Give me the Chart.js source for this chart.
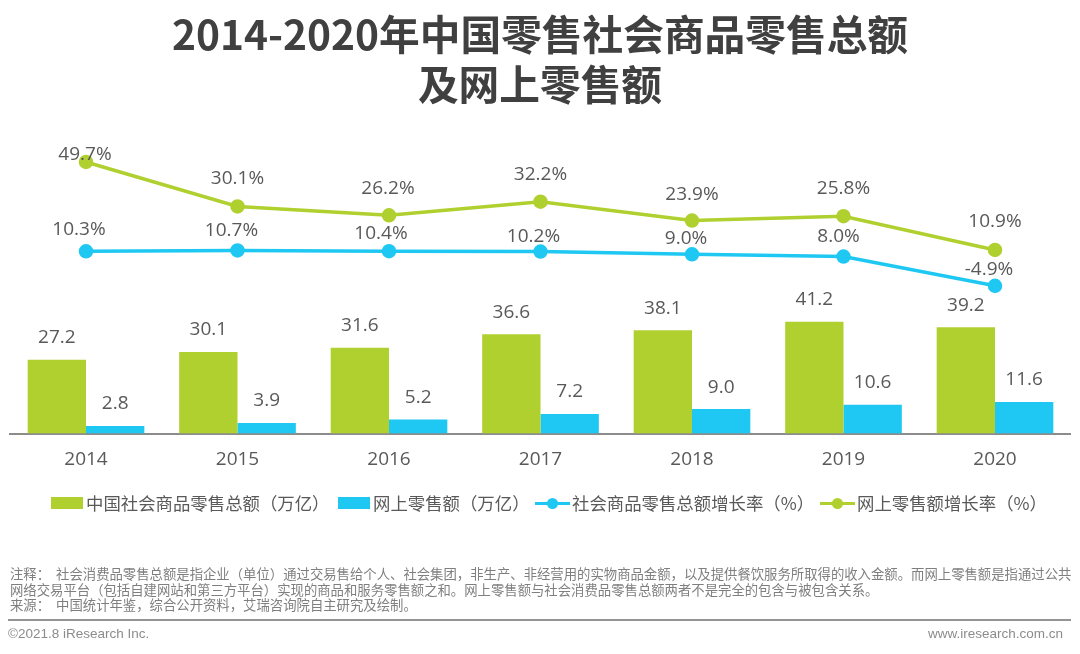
<!DOCTYPE html>
<html lang="zh-CN">
<head>
<meta charset="UTF-8">
<title>2014-2020年中国零售社会商品零售总额及网上零售额</title>
<script src="https://cdn.jsdelivr.net/npm/chart.js"></script>
<style>
    html, body { margin: 0; padding: 0; background: #fff; }
    body { width: 1080px; height: 654px; position: relative; overflow: hidden; font-family: "Noto Sans CJK SC", sans-serif; }
    #wrap { position: absolute; left: 0; top: 0; width: 1080px; height: 654px; }
    .title { position: absolute; left: 0; width: 1080px; text-align: center; font-weight: 700; font-size: 40.7px; line-height: 50px; color: #404040; }
    .leg { position: absolute; top: 491px; height: 24px; line-height: 24px; font-size: 17.4px; color: #595959; white-space: nowrap; }
    .swatch { position: absolute; }
    .note { position: absolute; left: 10px; font-size: 13.37px; line-height: 16px; color: #7f7f7f; white-space: nowrap; }
    .rule { position: absolute; left: 8px; width: 1063px; top: 618.5px; height: 2px; background: #949494; }
    .foot { position: absolute; top: 626px; font-family: "Liberation Sans", sans-serif; font-size: 13.5px; line-height: 16px; color: #8c8c8c; }
</style>
</head>
<body>
<div id="wrap"><canvas id="chart" width="1080" height="654"></canvas></div>
<div class="title" style="top:8px">2014-2020年中国零售社会商品零售总额</div>
<div class="title" style="top:58px">及网上零售额</div>
<div id="legend"></div>
<div class="note" style="top:565px">注释：&nbsp;&nbsp;社会消费品零售总额是指企业（单位）通过交易售给个人、社会集团，非生产、非经营用的实物商品金额，以及提供餐饮服务所取得的收入金额。而网上零售额是指通过公共</div>
<div class="note" style="top:581px">网络交易平台（包括自建网站和第三方平台）实现的商品和服务零售额之和。网上零售额与社会消费品零售总额两者不是完全的包含与被包含关系。</div>
<div class="note" style="top:596px">来源：&nbsp;&nbsp;中国统计年鉴，综合公开资料，艾瑞咨询院自主研究及绘制。</div>
<div class="rule"></div>
<div class="foot" style="left:8px">©2021.8 iResearch Inc.</div>
<div class="foot" style="right:17px">www.iresearch.com.cn</div>
<script>
var years = ['2014', '2015', '2016', '2017', '2018', '2019', '2020'];
var retailTotal = [27.2, 30.1, 31.6, 36.6, 38.1, 41.2, 39.2];
var onlineRetail = [2.8, 3.9, 5.2, 7.2, 9.0, 10.6, 11.6];
var retailGrowth = [10.3, 10.7, 10.4, 10.2, 9.0, 8.0, -4.9];
var onlineGrowth = [49.7, 30.1, 26.2, 32.2, 23.9, 25.8, 10.9];

var seriesNames = ['中国社会商品零售总额（万亿）', '网上零售额（万亿）', '社会商品零售总额增长率（%）', '网上零售额增长率（%）'];

var GREEN = '#b0d02f';
var BLUE = '#1fc8f2';
var LABEL = '#595959';

// hand placed label offsets from the mark, [dx, dy] in px
var labelOffsets = [
    [[0, -22], [0, -22], [0, -22], [0, -22], [0, -22], [0, -22], [0, -22]],
    [[0, -22], [0, -22], [0, -22], [0, -22], [0, -22], [0, -22], [0, -22]],
    [[-7, -22], [-6, -20], [-8, -18], [-7, -15], [-6, -16], [-5, -20], [-6, -16]],
    [[-1, -7], [0, -28], [-1, -27], [0, -27], [0, -26], [0, -28], [0, -28]]
];

var valueLabels = {
    id: 'valueLabels',
    afterDatasetsDraw: function (chart) {
        var ctx = chart.ctx;
        ctx.save();
        ctx.font = '19px "Open Sans"';
        ctx.fillStyle = LABEL;
        ctx.textAlign = 'center';
        ctx.textBaseline = 'middle';
        chart.data.datasets.forEach(function (ds, i) {
            chart.getDatasetMeta(i).data.forEach(function (el, j) {
                var v = ds.data[j];
                var text = i < 2 ? v.toFixed(1) : v.toFixed(1) + '%';
                ctx.fillText(text, el.x + labelOffsets[i][j][0], el.y + labelOffsets[i][j][1]);
            });
        });
        ctx.restore();
    }
};

new Chart(document.getElementById('chart').getContext('2d'), {
    type: 'bar',
    data: {
        labels: years,
        datasets: [
            { label: seriesNames[0], data: retailTotal, backgroundColor: GREEN, yAxisID: 'yBar', order: 3 },
            { label: seriesNames[1], data: onlineRetail, backgroundColor: BLUE, yAxisID: 'yBar', order: 4 },
            { type: 'line', label: seriesNames[2], data: retailGrowth, borderColor: BLUE, backgroundColor: BLUE, borderWidth: 3.5, pointRadius: 5.5, yAxisID: 'yLine', order: 2 },
            { type: 'line', label: seriesNames[3], data: onlineGrowth, borderColor: GREEN, backgroundColor: GREEN, borderWidth: 3.5, pointRadius: 5.5, yAxisID: 'yLine', order: 1 }
        ]
    },
    options: {
        responsive: false,
        animation: false,
        layout: { padding: { left: 10.25, right: 9.25, top: 130, bottom: 180.5 } },
        datasets: { bar: { categoryPercentage: 0.77, barPercentage: 1 } },
        plugins: { legend: { display: false }, tooltip: { enabled: false } },
        scales: {
            x: {
                grid: { display: false, drawTicks: false },
                border: { color: '#8c8c8c', width: 2 },
                ticks: { color: LABEL, font: { family: '"Open Sans"', size: 19 }, padding: 15, maxRotation: 0 },
                afterFit: function (s) { s.height = 40; }
            },
            yBar: { display: false, min: 0, max: 112 },
            yLine: { display: false, min: -70, max: 63.8 }
        }
    },
    plugins: [valueLabels]
});

// legend is placed by hand to match the source layout
var legendX = [51, 338, 535, 820];
var legendEl = document.getElementById('legend');
seriesNames.forEach(function (name, i) {
    var color = (i === 0 || i === 3) ? GREEN : BLUE;
    var item = document.createElement('div');
    if (i < 2) {
        item.innerHTML = '<div class="swatch" style="left:' + legendX[i] + 'px;top:497px;width:32px;height:12px;background:' + color + '"></div>';
    } else {
        item.innerHTML = '<div class="swatch" style="left:' + legendX[i] + 'px;top:501.5px;width:35px;height:3px;background:' + color + '"></div>' +
            '<div class="swatch" style="left:' + (legendX[i] + 12) + 'px;top:497.5px;width:11px;height:11px;border-radius:6px;background:' + color + '"></div>';
    }
    var text = document.createElement('div');
    text.className = 'leg';
    text.style.left = (legendX[i] + (i < 2 ? 35 : 37)) + 'px';
    text.textContent = name;
    item.appendChild(text);
    legendEl.appendChild(item);
});
</script>
</body>
</html>
